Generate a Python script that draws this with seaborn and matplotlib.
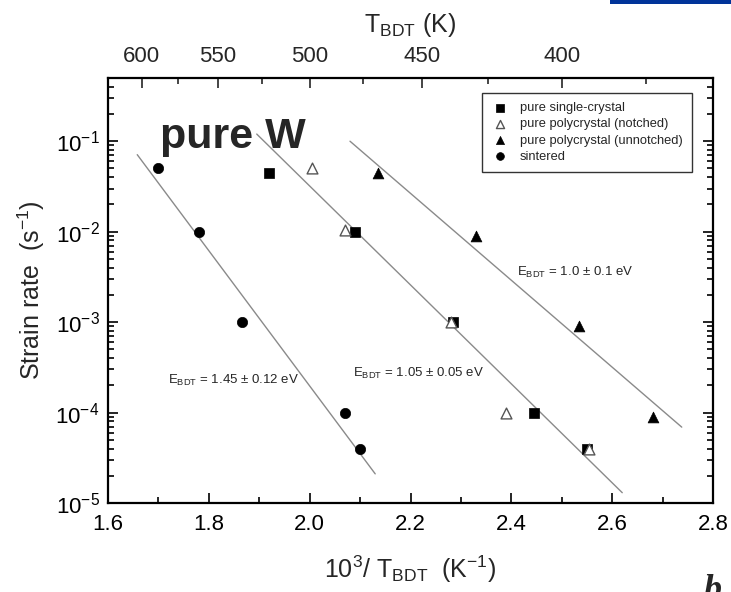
import numpy as np
import pandas as pd
import matplotlib
matplotlib.use("Agg")
import matplotlib.pyplot as plt
from matplotlib.patches import Rectangle
import seaborn as sns

# ---------------- data ----------------
series_names = ["pure single-crystal", "pure polycrystal (notched)",
                "pure polycrystal (unnotched)", "sintered"]

sc_x = [1.92, 2.09, 2.285, 2.445, 2.55]
sc_y = [0.045, 0.0100, 1.0e-3, 1.0e-4, 4.0e-5]

pn_x = [2.005, 2.07, 2.28, 2.39, 2.555]
pn_y = [0.050, 0.0105, 1.0e-3, 1.0e-4, 4.0e-5]

pu_x = [2.135, 2.33, 2.535, 2.68]
pu_y = [0.045, 0.0090, 9.0e-4, 9.0e-5]

si_x = [1.70, 1.78, 1.865, 2.07, 2.10]
si_y = [0.050, 0.0100, 1.0e-3, 1.0e-4, 4.0e-5]

# fitted lines (end points)
fit1_x = [1.658, 2.13]
fit1_y = [0.071, 2.1e-5]
fit2_x = [1.895, 2.62]
fit2_y = [0.12, 1.3e-5]
fit3_x = [2.08, 2.738]
fit3_y = [0.10, 6.9e-5]

fit_labels = ["1.45 ± 0.12 eV", "1.05 ± 0.05 eV", "1.0 ± 0.1 eV"]

xticks = [1.6, 1.8, 2.0, 2.2, 2.4, 2.6, 2.8]
xminor = [1.7, 1.9, 2.1, 2.3, 2.5, 2.7]
yticks = [1e-5, 1e-4, 1e-3, 1e-2, 1e-1]
ytick_labels = ["10$^{-5}$", "10$^{-4}$", "10$^{-3}$", "10$^{-2}$", "10$^{-1}$"]
top_ticks = [600, 550, 500, 450, 400]
top_minor = [575, 525, 475, 425, 375]

# ---------------- style ----------------
sns.set_theme(style="ticks")
plt.rcParams["font.family"] = ["Liberation Sans", "DejaVu Sans"]
plt.rcParams["mathtext.default"] = "regular"

fig = plt.figure(figsize=(7.31, 5.92), dpi=100)
ax = fig.add_axes([108/731, 1-503/592, 605/731, 425/592])

line_kw = dict(color="#8a8a8a", linewidth=1.0)
for fx, fy in [(fit1_x, fit1_y), (fit2_x, fit2_y), (fit3_x, fit3_y)]:
    sns.lineplot(x=fx, y=fy, ax=ax, **line_kw)

ms = 55
h1 = ax.scatter(sc_x, sc_y, marker="s", s=ms*0.85, c="black", edgecolors="black", linewidths=0.5, zorder=3)
h2 = ax.scatter(pn_x, pn_y, marker="^", s=ms*1.1, facecolors="white", edgecolors="#555555", linewidths=1.0, zorder=3)
h3 = ax.scatter(pu_x, pu_y, marker="^", s=ms*1.1, c="black", edgecolors="black", linewidths=0.5, zorder=3)
h4 = ax.scatter(si_x, si_y, marker="o", s=ms, c="black", edgecolors="black", linewidths=0.5, zorder=3)

ax.set_yscale("log")
ax.set_xlim(1.6, 2.8)
ax.set_ylim(1e-5, 0.5)
ax.set_xticks(xticks)
ax.set_xticklabels([f"{v:.1f}" for v in xticks])
ax.set_xticks(xminor, minor=True)
ax.set_yticks(yticks)
ax.set_yticklabels(ytick_labels)

for s in ax.spines.values():
    s.set_linewidth(1.6)
    s.set_color("black")
ax.tick_params(which="both", direction="in", top=False, right=True, labelsize=16, colors="black", width=1.2)
ax.tick_params(which="major", length=7)
ax.tick_params(which="minor", length=4)
ax.tick_params(axis="x", pad=8)
ax.tick_params(axis="y", pad=6)

sec = ax.secondary_xaxis("top", functions=(lambda x: 1000.0/np.asarray(x, float), lambda t: 1000.0/np.asarray(t, float)))
sec.set_xticks(top_ticks)
sec.set_xticks(top_minor, minor=True)
sec.set_xticklabels([str(t) for t in top_ticks])
sec.tick_params(which="both", direction="in", labelsize=16, width=1.2, pad=8)
sec.tick_params(which="major", length=7)
sec.tick_params(which="minor", length=4)
sec.set_xlabel("T$_{BDT}$ (K)", fontsize=18, labelpad=10)

ax.set_xlabel("10$^{3}$/ T$_{BDT}$  (K$^{-1}$)", fontsize=18, labelpad=13)
ax.set_ylabel("Strain rate  (s$^{-1}$)", fontsize=18, labelpad=6)

leg = ax.legend([h1, h2, h3, h4], series_names, loc="upper right",
                bbox_to_anchor=(0.965, 0.965), borderaxespad=0, fontsize=9.3,
                frameon=True, fancybox=False, edgecolor="black", handletextpad=0.85,
                handlelength=1.4, labelspacing=0.33, borderpad=0.7, markerscale=0.75)
leg.get_frame().set_linewidth(1.0)

ax.text(1.703, 0.085, "pure W", fontsize=31, fontweight="bold", ha="left", va="baseline", zorder=4)

small = 9.5
ax.text(1.719, 2.27e-4, "E$_{BDT}$ = " + fit_labels[0], fontsize=small, ha="left", va="center")
ax.text(2.086, 2.73e-4, "E$_{BDT}$ = " + fit_labels[1], fontsize=small, ha="left", va="center")
ax.text(2.411, 3.5e-3, "E$_{BDT}$ = " + fit_labels[2], fontsize=small, ha="left", va="center")

fig.patches.append(Rectangle((610/731, 1-4/592), 121/731, 4/592, transform=fig.transFigure,
                             facecolor="#003399", edgecolor="none"))
fig.text(704/731, 1-574/592, "b", fontsize=26, fontstyle="italic", fontweight="bold",
         family="Liberation Serif", ha="left", va="top")

fig.savefig("out.png", dpi=100)
